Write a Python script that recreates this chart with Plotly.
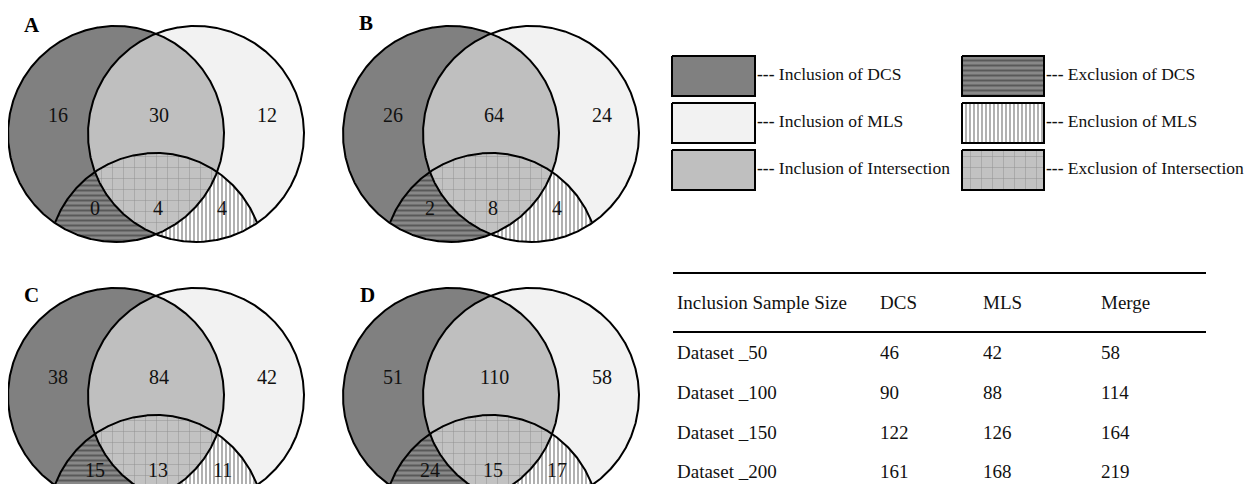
import numpy as np
import plotly.graph_objects as go

# ---------------- data ----------------
panels = ["A", "B", "C", "D"]
dcs_only = [16, 26, 38, 51]
intersection = [30, 64, 84, 110]
mls_only = [12, 24, 42, 58]
excl_dcs = [0, 2, 15, 24]
excl_inter = [4, 8, 13, 15]
excl_mls = [4, 4, 11, 17]

legend_left = ["Inclusion of DCS", "Inclusion of MLS", "Inclusion of Intersection"]
legend_right = ["Exclusion of DCS", "Enclusion of MLS", "Exclusion of Intersection"]

table_header = ["Inclusion Sample Size", "DCS", "MLS", "Merge"]
table_datasets = ["Dataset _50", "Dataset _100", "Dataset _150", "Dataset _200"]
table_dcs = [46, 90, 122, 161]
table_mls = [42, 88, 126, 168]
table_merge = [58, 114, 164, 219]

# ---------------- layout constants ----------------
W, H = 1255, 484
PAGE_OFF = 8  # default body margin of the html page
FONT = "Liberation Serif, Times New Roman, serif"
TXT = "#111111"
C_DCS, C_MLS, C_INT = "#808080", "#f2f2f2", "#bfbfbf"
PAT_H = dict(shape="-", bgcolor="#888888", fgcolor="#2a2a2a", size=5, solidity=0.4)
PAT_V = dict(shape="|", bgcolor="#ffffff", fgcolor="#1e1e1e", size=4, solidity=0.35)
PAT_G = dict(shape="+", bgcolor="#c2c2c2", fgcolor="#555555", size=11, solidity=0.08)

R = 108
C1, C2, C3 = (116, 134), (196, 134), (156, 261)
offsets = [(0, 0), (335, 0), (0, 262), (335, 262)]
label_xy = [(32, 25), (366, 23), (31, 295), (367, 295)]
top_row_y, bot_row_y = 115, 208
top_row_x = [58, 159, 267]
bot_row_x = [95, 158, 222]

N = 900
theta = np.linspace(-1.5 * np.pi, 0.5 * np.pi, N)


def circ(c):
    return c[0] + R * np.cos(theta), c[1] + R * np.sin(theta)


def inside(x, y, c, tol=1e-6):
    return (x - c[0]) ** 2 + (y - c[1]) ** 2 <= R ** 2 + tol


def disk_intersection(cs):
    xs, ys = [], []
    for i, c in enumerate(cs):
        x, y = circ(c)
        m = np.ones_like(x, dtype=bool)
        for j, o in enumerate(cs):
            if j != i:
                m &= inside(x, y, o, tol=1.0)
        xs.append(x[m])
        ys.append(y[m])
    x = np.concatenate(xs)
    y = np.concatenate(ys)
    mx, my = x.mean(), y.mean()
    order = np.argsort(np.arctan2(y - my, x - mx))
    x, y = x[order], y[order]
    return np.append(x, x[0]), np.append(y, y[0])


fig = go.Figure()


def fill_trace(x, y, color=None, pattern=None, line_w=0, line_c="rgba(0,0,0,0)"):
    kw = dict(x=x, y=y, mode="lines", fill="toself",
              line=dict(width=line_w, color=line_c), hoverinfo="skip", showlegend=False)
    if pattern is not None:
        kw["fillpattern"] = pattern
        kw["fillcolor"] = pattern["bgcolor"]
    else:
        kw["fillcolor"] = color
    fig.add_trace(go.Scatter(**kw))


annotations = []

for k, p in enumerate(panels):
    ox, oy = offsets[k]
    c1 = (C1[0] + ox, C1[1] + oy)
    c2 = (C2[0] + ox, C2[1] + oy)
    c3 = (C3[0] + ox, C3[1] + oy)
    x, y = circ(c1)
    fill_trace(x, y, C_DCS)
    x, y = circ(c2)
    fill_trace(x, y, C_MLS)
    x, y = disk_intersection([c1, c2])
    fill_trace(x, y, C_INT)
    x, y = disk_intersection([c1, c3])
    fill_trace(x, y, pattern=PAT_H)
    x, y = disk_intersection([c2, c3])
    fill_trace(x, y, pattern=PAT_V)
    x, y = disk_intersection([c1, c2, c3])
    fill_trace(x, y, pattern=PAT_G)
    # outlines
    for c in (c1, c2):
        x, y = circ(c)
        fig.add_trace(go.Scatter(x=x, y=y, mode="lines", line=dict(color="black", width=2),
                                 hoverinfo="skip", showlegend=False))
    x, y = circ(c3)
    m = inside(x, y, c1, tol=1.0) | inside(x, y, c2, tol=1.0)
    fig.add_trace(go.Scatter(x=np.where(m, x, None), y=np.where(m, y, None), mode="lines",
                             line=dict(color="black", width=2), connectgaps=False,
                             hoverinfo="skip", showlegend=False))
    # counts
    tops = [dcs_only[k], intersection[k], mls_only[k]]
    bots = [excl_dcs[k], excl_inter[k], excl_mls[k]]
    for xx, v in zip(top_row_x, tops):
        annotations.append(dict(x=xx + ox, y=top_row_y + oy, text=str(v), showarrow=False,
                                font=dict(family=FONT, size=20, color=TXT)))
    for xx, v in zip(bot_row_x, bots):
        annotations.append(dict(x=xx + ox, y=bot_row_y + oy, text=str(v), showarrow=False,
                                font=dict(family=FONT, size=20, color=TXT)))
    annotations.append(dict(x=label_xy[k][0], y=label_xy[k][1], text="<b>%s</b>" % p,
                            showarrow=False, font=dict(family=FONT, size=21, color="black")))

# ---------------- legend ----------------
box_y = [(56, 96), (103, 143), (150, 190)]
left_box_x = (672, 755)
right_box_x = (962, 1044)
left_styles = [dict(color=C_DCS), dict(color=C_MLS), dict(color=C_INT)]
right_styles = [dict(pattern=PAT_H), dict(pattern=PAT_V), dict(pattern=PAT_G)]

for (bx, labels, styles) in ((left_box_x, legend_left, left_styles),
                             (right_box_x, legend_right, right_styles)):
    for (y0, y1), lab, st in zip(box_y, labels, styles):
        fill_trace([bx[0], bx[1], bx[1], bx[0], bx[0]], [y0, y0, y1, y1, y0],
                   line_w=2, line_c="black", **st)
        annotations.append(dict(x=bx[1], y=(y0 + y1) / 2 - 2, text="<b>---</b> " + lab,
                                showarrow=False, xanchor="left",
                                font=dict(family=FONT, size=17.5, color=TXT)))

# ---------------- table ----------------
col_x = [676, 879, 982, 1100]
header_y = 302
row_y = [352, 392, 432, 471]
rule_y = [273, 332]
rule_x = (673, 1206)

for cx, h in zip(col_x, table_header):
    annotations.append(dict(x=cx, y=header_y, text=h, showarrow=False, xanchor="left",
                            xshift=-1, font=dict(family=FONT, size=19, color=TXT)))
for ry, name, a, b, c in zip(row_y, table_datasets, table_dcs, table_mls, table_merge):
    for cx, v in zip(col_x, [name, a, b, c]):
        annotations.append(dict(x=cx, y=ry, text=str(v), showarrow=False, xanchor="left",
                                xshift=-1, font=dict(family=FONT, size=19, color=TXT)))

shapes = [dict(type="line", xref="x", yref="y", x0=rule_x[0], x1=rule_x[1], y0=ry, y1=ry,
               line=dict(color="black", width=2)) for ry in rule_y]

# axis ranges chosen so that one data unit is one page pixel, compensating the page margin
fig.update_layout(
    width=W, height=H, margin=dict(l=0, r=0, t=0, b=0),
    paper_bgcolor="white", plot_bgcolor="white",
    xaxis=dict(range=[PAGE_OFF, W + PAGE_OFF], visible=False, fixedrange=True),
    yaxis=dict(range=[H + PAGE_OFF, PAGE_OFF], visible=False, fixedrange=True),
    annotations=annotations, shapes=shapes, showlegend=False,
)

fig.write_html("out.html")
